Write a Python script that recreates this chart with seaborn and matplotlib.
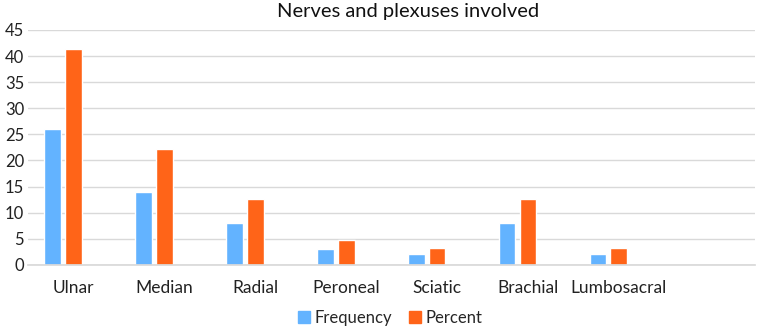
import matplotlib.pyplot as plt
import matplotlib.patches as mpatches
import pandas as pd
import seaborn as sns

nerves = ["Ulnar", "Median", "Radial", "Peroneal", "Sciatic", "Brachial", "Lumbosacral"]
frequency = [26, 14, 8, 3, 2, 8, 2]
percent = [41.3, 22.2, 12.7, 4.8, 3.2, 12.7, 3.2]
series = ["Frequency", "Percent"]
colors = ["#63B3FF", "#FF6418"]

df = pd.DataFrame(
    {
        "nerve": nerves * 2,
        "series": ["Frequency"] * len(nerves) + ["Percent"] * len(nerves),
        "value": frequency + percent,
    }
)

sns.set_theme(style="white")
plt.rcParams["font.family"] = ["Lato", "DejaVu Sans"]

fig = plt.figure(figsize=(7.65, 3.29), dpi=100)
ax = fig.add_axes([0.037, 0.195, 0.950, 0.714])

# third (empty) series keeps Excel-style spacing inside each group
sns.barplot(
    data=df,
    x="nerve",
    y="value",
    hue="series",
    hue_order=series + ["_empty"],
    palette=colors + ["#ffffff"],
    order=nerves,
    width=0.69,
    gap=0.2,
    saturation=1,
    legend=False,
    ax=ax,
)

ax.set_xlim(-0.5, 7.5)
ax.set_ylim(0, 45)
ax.set_yticks(range(0, 46, 5))
ax.xaxis.grid(False)
ax.yaxis.grid(True, color="#D9D9D9", linewidth=1)
ax.set_axisbelow(True)
for side in ["top", "right", "left"]:
    ax.spines[side].set_visible(False)
ax.spines["bottom"].set_color("#D9D9D9")
ax.tick_params(axis="both", length=0, colors="#222222")
ax.tick_params(axis="x", pad=11, labelsize=12.5)
ax.tick_params(axis="y", pad=3, labelsize=12)
ax.set_xlabel("")
ax.set_ylabel("")

fig.suptitle("Nerves and plexuses involved", x=0.533, y=0.99, fontsize=14.5, color="#111111")

handles = [mpatches.Patch(color=c, label=s) for c, s in zip(colors, series)]
fig.legend(
    handles=handles,
    loc="center",
    bbox_to_anchor=(0.51, 0.033),
    ncol=2,
    frameon=False,
    fontsize=12,
    handlelength=0.7,
    handleheight=0.7,
    handletextpad=0.3,
    columnspacing=1.0,
)

fig.savefig("out.png", dpi=100)
